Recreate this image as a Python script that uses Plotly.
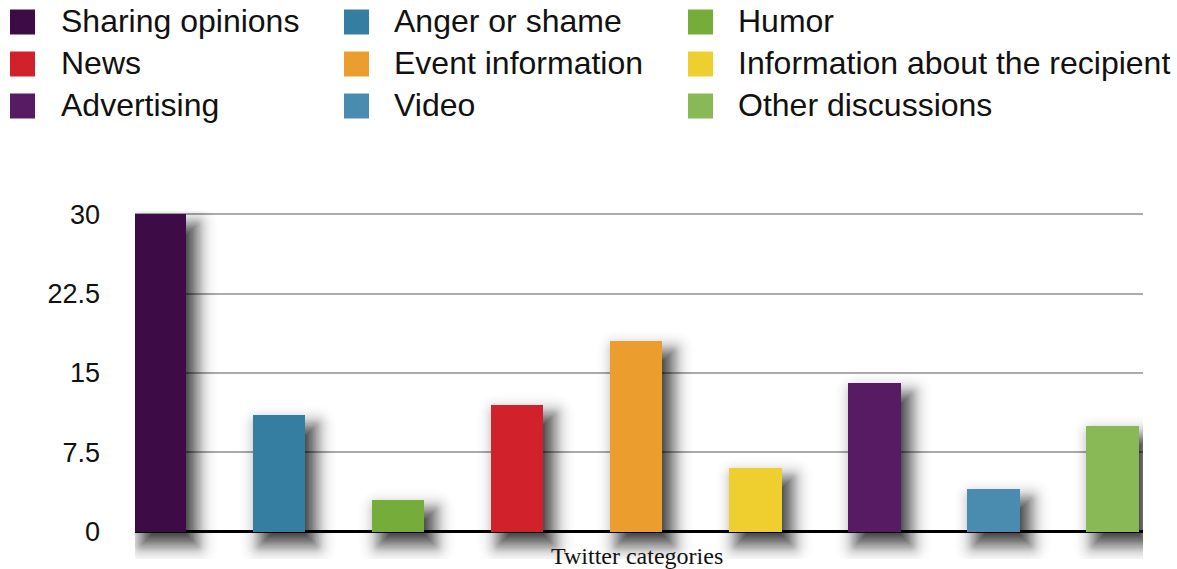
import math
import plotly.graph_objects as go

# Share of tweets per category
categories = [
    "Sharing opinions", "Anger or shame", "Humor",
    "News", "Event information", "Information about the recipient",
    "Advertising", "Video", "Other discussions",
]
values = [30, 11, 3, 12, 18, 6, 14, 4, 10]
colors = [
    "#3d0c46", "#357ea2", "#76ad3a",
    "#d1222b", "#eb9e2d", "#efce2f",
    "#561b63", "#4a8cb0", "#89b956",
]
y_ticks = [0, 7.5, 15, 22.5, 30]
y_tick_labels = ["0", "7.5", "15", "22.5", "30"]
x_title = "Twitter categories"

# Page geometry (pixels)
W_FIG, H_FIG = 1177, 569
M_L, M_R, M_T, M_B = 135, 34, 211, 10
PW = W_FIG - M_L - M_R
PH = H_FIG - M_T - M_B
X_RANGE = [-0.21, 8.256]
Y_RANGE = [-2.6, 30.3]   # room under the baseline for the bar shadows
BAR_W = 0.44

SANS = "Liberation Sans, Arial, Helvetica, sans-serif"
SERIF = "Liberation Serif, Times New Roman, serif"

x_pos = list(range(len(categories)))

# pixel -> data unit factors
PX_X = (X_RANGE[1] - X_RANGE[0]) / PW
PX_Y = (Y_RANGE[1] - Y_RANGE[0]) / PH


def px_to_fx(px):
    return (px - M_L) / PW


def px_to_fy(py):
    return (M_T + PH - py) / PH


fig = go.Figure()

fig.add_trace(go.Bar(
    x=x_pos,
    y=values,
    width=BAR_W,
    marker=dict(color=colors, line=dict(width=0)),
    showlegend=False,
    hoverinfo="skip",
))

# Soft drop shadow: nested translucent rounded rectangles whose opacities
# build up a Gaussian-like falloff around the offset bar outline
SH_DX, SH_DY, SH_SIG, SH_D0 = 9, 12, 10.0, 0.78


def shadow_T(d):
    """Light transmitted at distance d (px) past the offset bar edge."""
    return 1 - SH_D0 * 0.5 * math.erfc(d / (SH_SIG * math.sqrt(2)))


def rounded_rect(x0, x1, y0, y1, rx, ry):
    if rx <= 0 or ry <= 0:
        return f"M{x0},{y0} L{x1},{y0} L{x1},{y1} L{x0},{y1} Z"
    return (
        f"M{x0 + rx},{y0} L{x1 - rx},{y0} Q{x1},{y0} {x1},{y0 + ry} "
        f"L{x1},{y1 - ry} Q{x1},{y1} {x1 - rx},{y1} "
        f"L{x0 + rx},{y1} Q{x0},{y1} {x0},{y1 - ry} "
        f"L{x0},{y0 + ry} Q{x0},{y0} {x0 + rx},{y0} Z"
    )


shapes = []
for xi, v in zip(x_pos, values):
    for e in range(-26, 34):
        a = 1 - shadow_T(e - 0.5) / shadow_T(e + 0.5)
        x0 = xi - BAR_W / 2 + (SH_DX - e) * PX_X
        x1 = xi + BAR_W / 2 + (SH_DX + e) * PX_X
        y0 = 0 - (SH_DY + e) * PX_Y
        y1 = v - (SH_DY - e) * PX_Y
        if x1 <= x0 or y1 <= y0:
            continue
        r = max(e, 0)
        shapes.append(dict(
            type="path", xref="x", yref="y", layer="between",
            path=rounded_rect(x0, x1, y0, y1, r * PX_X, r * PX_Y),
            fillcolor="black", opacity=a, line=dict(width=0),
        ))

# Legend grid: three columns, filled row by row
annotations = []
col_swatch = [10, 344, 688]
col_text = [59, 392, 736]
row_mid = [22, 64, 106]
SW = 25
for i, (cat, col) in enumerate(zip(categories, colors)):
    r, c = divmod(i, 3)
    shapes.append(dict(
        type="rect", xref="paper", yref="paper", layer="above",
        x0=px_to_fx(col_swatch[c]), x1=px_to_fx(col_swatch[c] + SW),
        y0=px_to_fy(row_mid[r] + SW / 2), y1=px_to_fy(row_mid[r] - SW / 2),
        fillcolor=col, line=dict(width=0),
    ))
    annotations.append(dict(
        text=cat, xref="paper", yref="paper",
        x=px_to_fx(col_text[c]), y=px_to_fy(row_mid[r] - 1),
        xanchor="left", yanchor="middle", showarrow=False,
        font=dict(family=SANS, size=32, color="#111111"),
    ))

annotations.append(dict(
    text=x_title, xref="paper", yref="paper",
    x=px_to_fx(637), y=px_to_fy(556),
    xanchor="center", yanchor="middle", showarrow=False,
    font=dict(family=SERIF, size=24, color="#111111"),
))

fig.update_layout(
    width=W_FIG, height=H_FIG,
    margin=dict(l=M_L, r=M_R, t=M_T, b=M_B, pad=0),
    paper_bgcolor="white", plot_bgcolor="white",
    showlegend=False,
    bargap=0,
    shapes=shapes,
    annotations=annotations,
    xaxis=dict(
        range=X_RANGE, showticklabels=False, ticks="", showgrid=False,
        zeroline=False, showline=False, fixedrange=True,
    ),
    yaxis=dict(
        range=Y_RANGE, tickmode="array", tickvals=y_ticks, ticktext=y_tick_labels,
        ticks="", ticklabelstandoff=34, showgrid=True, gridcolor="#ababab",
        gridwidth=2, showline=False,
        zeroline=True, zerolinecolor="black", zerolinewidth=3,
        tickfont=dict(family=SANS, size=27, color="#111111"),
        fixedrange=True,
    ),
)

fig.write_html("out.html")
